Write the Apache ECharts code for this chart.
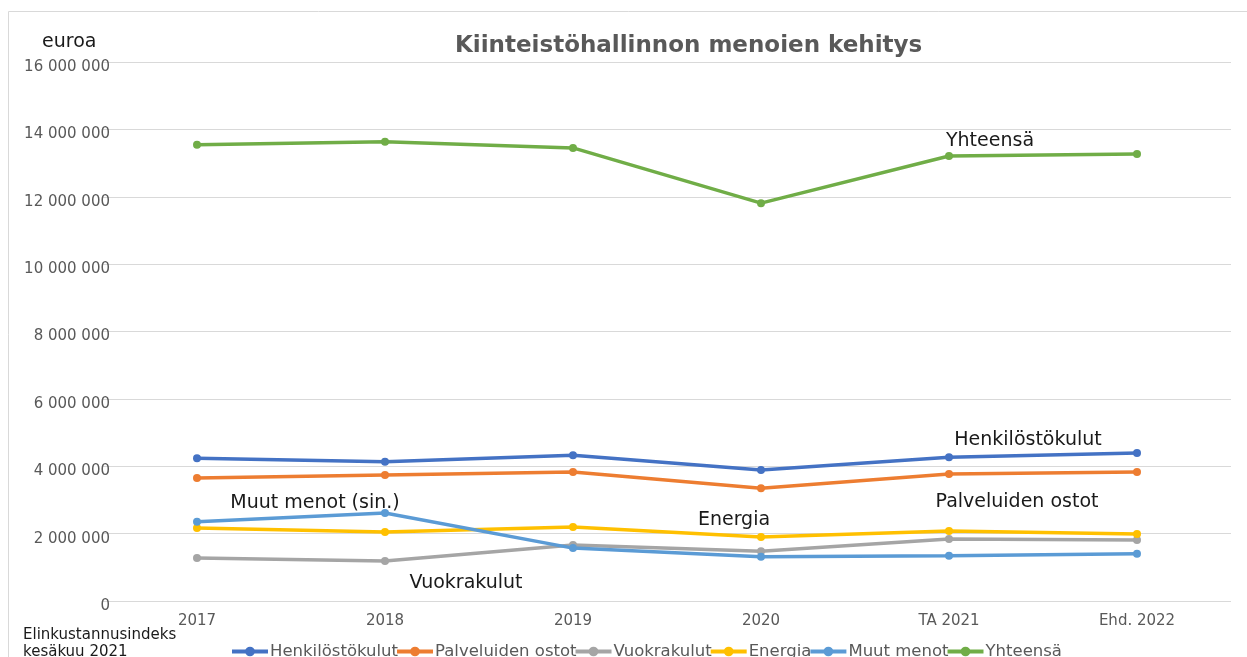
<!DOCTYPE html>
<html>
<head>
<meta charset="utf-8">
<script src="https://cdn.jsdelivr.net/npm/echarts@6/dist/echarts.min.js"></script>
<style>
  html, body { margin: 0; padding: 0; background: #fff; }
  #chart { width: 1247px; height: 657px; }
</style>
</head>
<body>
<div id="chart"></div>
<script>
const categories = ['2017', '2018', '2019', '2020', 'TA 2021', 'Ehd. 2022']

const henkilostokulut = [4240000, 4130000, 4330000, 3890000, 4270000, 4390000]
const palveluidenOstot = [3650000, 3740000, 3830000, 3350000, 3770000, 3830000]
const vuokrakulut = [1280000, 1190000, 1660000, 1480000, 1840000, 1810000]
const energia = [2170000, 2050000, 2200000, 1900000, 2080000, 1990000]
const muutMenot = [2350000, 2610000, 1570000, 1310000, 1340000, 1400000]
const yhteensa = [13540000, 13630000, 13450000, 11810000, 13210000, 13270000]

const yTicks = [0, 2000000, 4000000, 6000000, 8000000, 10000000, 12000000, 14000000, 16000000]

const FONT = 'DejaVu Sans'

const chartContainer = document.getElementById('chart')
const myChart = echarts.init(chartContainer)

const fmt = (val) => String(val).replace(/\B(?=(\d{3})+(?!\d))/g, ' ')

// inline series labels: [point index, text, position, offset]
const makeData = (values, note) => values.map((v, i) => {
  if (!note || note[0] !== i) return v
  return {
    value: v,
    label: {
      show: true,
      formatter: note[1],
      position: note[2],
      offset: note[3],
      color: '#1a1a1a',
      fontSize: 19,
      fontFamily: FONT
    }
  }
})

const seriesDefs = [
  { name: 'Henkilöstökulut', color: '#4472C4', data: henkilostokulut, note: [4, 'Henkilöstökulut', 'top', [79, 1]] },
  { name: 'Palveluiden ostot', color: '#ED7D31', data: palveluidenOstot, note: [4, 'Palveluiden ostot', 'bottom', [68, 10]] },
  { name: 'Vuokrakulut', color: '#A5A5A5', data: vuokrakulut, note: [1, 'Vuokrakulut', 'bottom', [81, 4]] },
  { name: 'Energia', color: '#FFC000', data: energia, note: [3, 'Energia', 'top', [-27, 2]] },
  { name: 'Muut menot', color: '#5B9BD5', data: muutMenot, note: [0, 'Muut menot (sin.)', 'top', [118, 0]] },
  { name: 'Yhteensä', color: '#70AD47', data: yhteensa, note: [4, 'Yhteensä', 'top', [41, 4]] }
]

const chartOption = {
  animation: false,
  title: {
    text: 'Kiinteistöhallinnon menoien kehitys',
    left: 450,
    top: 30,
    textStyle: {
      color: '#595959',
      fontSize: 23,
      fontWeight: 'bold',
      fontFamily: FONT
    }
  },
  legend: {
    left: 225,
    top: 638,
    itemWidth: 36,
    itemHeight: 12,
    itemGap: -3,
    lineStyle: { width: 4 },
    textStyle: { color: '#595959', fontSize: 16.5, fontFamily: FONT, padding: [0, 0, 0, -3] },
    data: seriesDefs.map(s => s.name)
  },
  graphic: [
    {
      type: 'rect',
      silent: true,
      shape: { x: 8.5, y: 11.5, width: 1260, height: 700 },
      style: { fill: 'none', stroke: '#d9d9d9', lineWidth: 1 }
    },
    {
      type: 'text',
      left: 42,
      top: 33,
      style: { text: 'euroa', fill: '#1a1a1a', fontSize: 19, fontFamily: FONT }
    },
    {
      type: 'text',
      left: 23,
      top: 627,
      style: {
        text: 'Elinkustannusindeks\nkesäkuu 2021',
        fill: '#1a1a1a',
        fontSize: 15,
        lineHeight: 17,
        fontFamily: FONT
      }
    }
  ],
  grid: {
    left: 103,
    right: 16,
    top: 62,
    bottom: 56,
    containLabel: false
  },
  xAxis: {
    type: 'category',
    data: categories,
    boundaryGap: true,
    axisLine: { show: false },
    axisTick: { show: false },
    axisLabel: {
      color: '#595959',
      fontSize: 15,
      fontFamily: FONT,
      margin: 13
    }
  },
  yAxis: {
    type: 'value',
    min: yTicks[0],
    max: yTicks[yTicks.length - 1],
    interval: yTicks[1] - yTicks[0],
    axisLine: { show: false },
    axisTick: { show: false },
    splitLine: { lineStyle: { color: '#d9d9d9', width: 1 } },
    axisLabel: {
      color: '#595959',
      fontSize: 15,
      fontFamily: FONT,
      margin: -7,
      verticalAlign: 'top',
      lineHeight: 10,
      formatter: fmt
    }
  },
  series: seriesDefs.map(s => ({
    name: s.name,
    type: 'line',
    data: makeData(s.data, s.note),
    symbol: 'circle',
    symbolSize: 8,
    smooth: false,
    lineStyle: { color: s.color, width: 3.5 },
    itemStyle: { color: s.color }
  }))
}

myChart.setOption(chartOption)
window.addEventListener('resize', () => myChart?.resize())
</script>
</body>
</html>
